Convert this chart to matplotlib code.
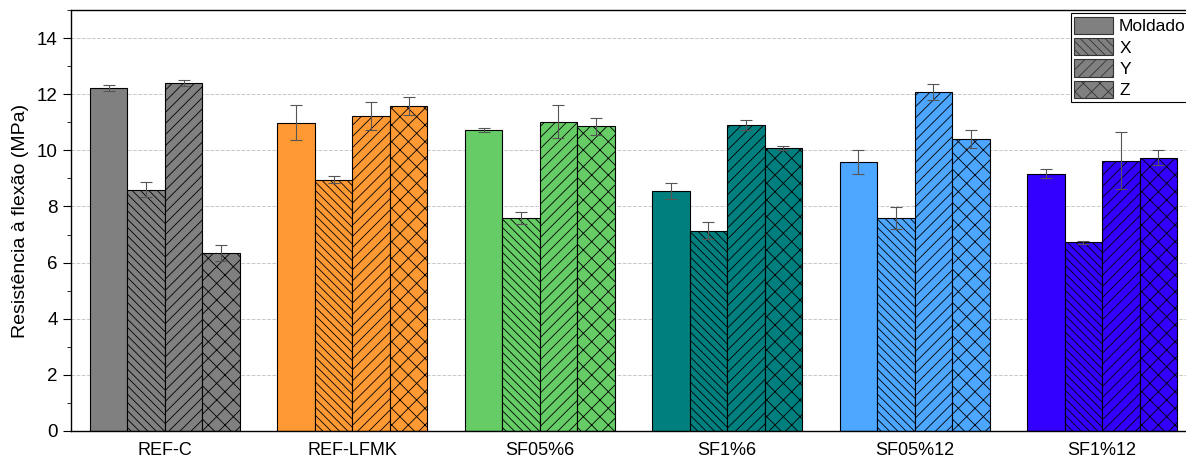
import matplotlib.pyplot as plt
import numpy as np
from matplotlib.ticker import MultipleLocator

plt.rcParams['font.family'] = ['Liberation Sans', 'DejaVu Sans']
plt.rcParams['hatch.linewidth'] = 0.6

groups = ['REF-C', 'REF-LFMK', 'SF05%6', 'SF1%6', 'SF05%12', 'SF1%12']
series = ['Moldado', 'X', 'Y', 'Z']
colors = ['#808080', '#FF9933', '#66CC66', '#007F7F', '#4DA6FF', '#3300FF']
hatches = ['', '\\\\\\\\', '///', 'xx']

moldado = [12.22, 10.99, 10.73, 8.54, 9.59, 9.16]
moldado_err = [0.11, 0.63, 0.06, 0.28, 0.43, 0.16]
x_vals = [8.60, 8.96, 7.59, 7.13, 7.59, 6.73]
x_err = [0.27, 0.11, 0.22, 0.30, 0.39, 0.05]
y_vals = [12.39, 11.23, 11.02, 10.91, 12.08, 9.63]
y_err = [0.10, 0.50, 0.58, 0.17, 0.28, 1.01]
z_vals = [6.35, 11.58, 10.85, 10.08, 10.42, 9.74]
z_err = [0.28, 0.31, 0.30, 0.07, 0.32, 0.28]

values = [moldado, x_vals, y_vals, z_vals]
errors = [moldado_err, x_err, y_err, z_err]

fig = plt.figure(figsize=(11.86, 4.57), dpi=100)
ax = fig.add_axes([0.0599, 0.0569, 0.9401, 0.9212])

pos = np.arange(len(groups))
width = 0.2
for s, (vals, errs, hatch) in enumerate(zip(values, errors, hatches)):
    xs = pos + (s - 1.5) * width
    ax.bar(xs, vals, width, color=colors, edgecolor='black', linewidth=0.8,
           hatch=hatch, zorder=2)
    ax.errorbar(xs, vals, yerr=errs, fmt='none', ecolor='#555555',
                elinewidth=0.8, capsize=4, capthick=0.8, zorder=3)

handles = [plt.Rectangle((0, 0), 1, 1, facecolor='#808080', edgecolor='#333333',
                         linewidth=0.8, hatch=h) for h in hatches]
leg = ax.legend(handles, series, loc='upper right', bbox_to_anchor=(1.003, 0.992),
                borderaxespad=0, fontsize=12.5, handlelength=2.25, handleheight=1.15,
                handletextpad=0.35, labelspacing=0.22, borderpad=0.2,
                fancybox=False, edgecolor='black', framealpha=1)
leg.get_frame().set_linewidth(0.8)

ax.set_xlim(-0.5, 5.447)
ax.set_ylim(0, 15)
ax.set_xticks(pos)
ax.set_xticklabels(groups, fontsize=13)
ax.tick_params(axis='x', length=0, pad=8)
ax.yaxis.set_major_locator(MultipleLocator(2))
ax.yaxis.set_minor_locator(MultipleLocator(1))
ax.tick_params(axis='y', which='major', direction='out', length=6, labelsize=13.5)
ax.tick_params(axis='y', which='minor', direction='out', length=3)
ax.set_ylabel('Resistência à flexão (MPa)', fontsize=14, labelpad=6)
ax.grid(axis='y', which='major', linestyle='--', color='#c8c8c8', linewidth=0.7, zorder=0)
ax.set_axisbelow(True)
ax.spines['right'].set_visible(False)
for sp in ['left', 'bottom', 'top']:
    ax.spines[sp].set_linewidth(1.0)

fig.savefig('out.png', dpi=100)
